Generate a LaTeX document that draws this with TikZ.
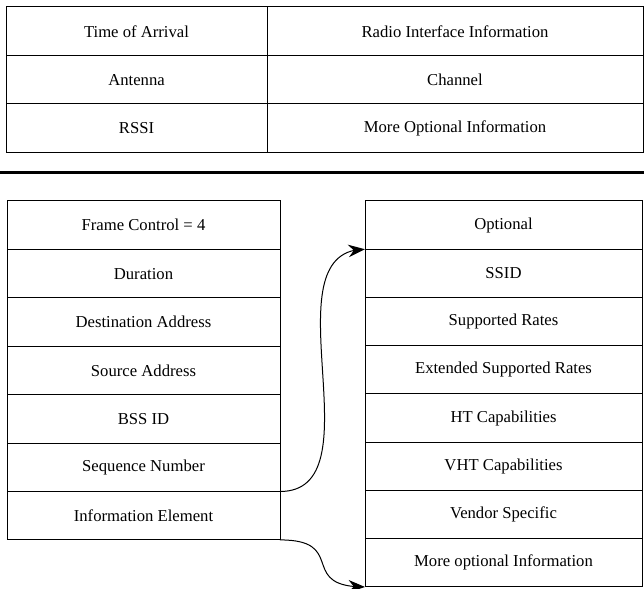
\documentclass[tikz,border=0pt]{standalone}
\usepackage{fontspec}
\setmainfont{Liberation Serif}
\usetikzlibrary{arrows.meta,bending,positioning}

\tikzset{
  field/.style={draw,line width=0.6pt,inner sep=0pt,outer sep=0pt,minimum height=29.1pt,font=\fontsize{10}{12}\selectfont},
  radleft/.style={field,minimum width=156.6pt},
  radright/.style={field,minimum width=225.6pt},
  hdrfield/.style={field,minimum height=29.05pt,minimum width=163.8pt},
  iefield/.style={field,minimum height=28.95pt,minimum width=166.2pt},
}

\begin{document}
\begin{tikzpicture}[x=0.6pt,y=-0.6pt,>={Stealth[length=10pt,width=7.5pt]}]
	\useasboundingbox (0,0) rectangle (644,589);
	% radio header
	\node[radleft,anchor=north west] (toa) at (6,7) {Time of Arrival};
	\node[radright,right=0pt of toa] (radio) {Radio Interface Information};
	\node[radleft,below=0pt of toa] (ant) {Antenna};
	\node[radright,right=0pt of ant] (chan) {Channel};
	\node[radleft,below=0pt of ant] (rssi) {RSSI};
	\node[radright,right=0pt of rssi] (moreradio) {More Optional Information};

	\draw[line width=1.8pt] (0,173) -- (644,173);

	% frame header
	\node[hdrfield,anchor=north west] (fc) at (7,201) {Frame Control = 4};
	\node[hdrfield,below=0pt of fc] (dur) {Duration};
	\node[hdrfield,below=0pt of dur] (dst) {Destination Address};
	\node[hdrfield,below=0pt of dst] (src) {Source Address};
	\node[hdrfield,below=0pt of src] (bss) {BSS ID};
	\node[hdrfield,below=0pt of bss] (seq) {Sequence Number};
	\node[hdrfield,below=0pt of seq] (info) {Information Element};

	% information elements
	\node[iefield,anchor=north west] (opt) at (365,201) {Optional};
	\node[iefield,below=0pt of opt] (ssid) {SSID};
	\node[iefield,below=0pt of ssid] (rates) {Supported Rates};
	\node[iefield,below=0pt of rates] (extrates) {Extended Supported Rates};
	\node[iefield,below=0pt of extrates] (ht) {HT Capabilities};
	\node[iefield,below=0pt of ht] (vht) {VHT Capabilities};
	\node[iefield,below=0pt of vht] (vendor) {Vendor Specific};
	\node[iefield,below=0pt of vendor] (moreie) {More optional Information};

	\draw[->,line width=0.6pt] (seq.south east) to[out=0,in=180] (opt.south west);
	\draw[->,line width=0.6pt] (info.south east) to[out=0,in=180,looseness=1.8] (moreie.south west);
	%%%%%%%%%%%%%%%%%%%%%%%%%%%%%
\end{tikzpicture}
\end{document}
